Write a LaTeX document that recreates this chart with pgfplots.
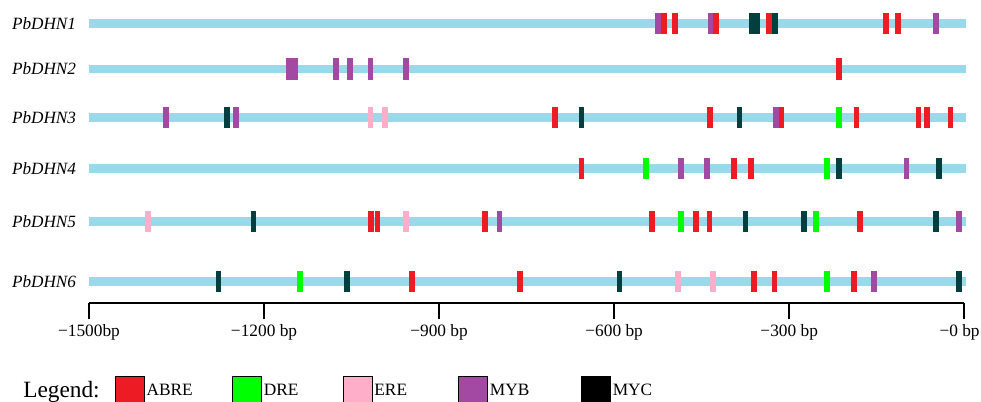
\documentclass[border=0pt]{standalone}
\usepackage{fontspec}
\setmainfont{Liberation Serif}
\usepackage{pgfplots}
\pgfplotsset{compat=1.18}
\definecolor{barc}{HTML}{99D9EA}
\definecolor{abre}{HTML}{ED1C24}
\definecolor{dre}{HTML}{00FF00}
\definecolor{ere}{HTML}{FFAEC9}
\definecolor{myb}{HTML}{A349A4}
\definecolor{myc}{HTML}{033F3F}
\tikzset{rowlab/.style={anchor=east, inner sep=0pt, font=\fontsize{12.9}{15}\selectfont\itshape, xshift=-9.5pt}}
\begin{document}
\begin{tikzpicture}
\begin{axis}[
  x=0.43763pt, y=0.75pt,
  xmin=-1500, xmax=0, ymin=-303.3, ymax=-10,
  clip=false,
  axis x line=bottom, axis y line=none,
  axis line style={-, line width=1.7pt},
  xtick={-1500,-1200,-900,-600,-300},
  xticklabels={−1500bp, −1200 bp, −900 bp, −600 bp, −300 bp},
  extra x ticks={0},
  extra x tick labels={−0 bp},
  extra x tick style={xticklabel style={xshift=-3.5pt}},
  tick align=outside, major tick length=12pt,
  tick style={black, line width=1.5pt},
  xticklabel style={font=\fontsize{13}{15}\selectfont},
  legend columns=5,
  legend image code/.code={\fill (0pt,-10.9pt) rectangle (21.75pt,10.9pt);},
  legend style={at={(axis cs:-1455.4,-390.5)}, anchor=west, draw=none, fill=none,
    inner sep=0pt, outer sep=0pt, font=\fontsize{13}{15}\selectfont,
    /tikz/every odd column/.append style={column sep=1.5pt},
    /tikz/every even column/.append style={column sep=0pt},
    nodes={inner sep=0pt}},
]
% promoter bars
\addplot[barc, line width=6.6pt, forget plot] coordinates {(-1500,-23.3) (3,-23.3)};
\addplot[barc, line width=6.6pt, forget plot] coordinates {(-1500,-69) (3,-69)};
\addplot[barc, line width=6.6pt, forget plot] coordinates {(-1500,-117.6) (3,-117.6)};
\addplot[barc, line width=6.6pt, forget plot] coordinates {(-1500,-168.6) (3,-168.6)};
\addplot[barc, line width=6.6pt, forget plot] coordinates {(-1500,-221.8) (3,-221.8)};
\addplot[barc, line width=6.6pt, forget plot] coordinates {(-1500,-281.3) (3,-281.3)};
% ABRE
\addplot[only marks, mark=|, mark size=8pt, mark options={draw=abre, line width=4.3pt}, forget plot] coordinates {
 (-514.9,-23.3) (-495.2,-23.3) (-425.1,-23.3) (-334.3,-23.3) (-133.8,-23.3) (-113.9,-23.3)
 (-214.7,-69)
 (-701,-117.6) (-435.4,-117.6) (-313.7,-117.6) (-184.7,-117.6) (-78.4,-117.6) (-63.5,-117.6) (-23.6,-117.6)
 (-656,-168.6) (-395.1,-168.6) (-365.1,-168.6)
 (-1017.3,-221.8) (-1005.6,-221.8) (-821.7,-221.8) (-535.5,-221.8) (-460,-221.8) (-436.6,-221.8) (-179,-221.8)
 (-946.8,-281.3) (-761.7,-281.3) (-360,-281.3) (-325.2,-281.3) (-189.5,-281.3)
};
% DRE
\addplot[only marks, mark=|, mark size=8pt, mark options={draw=dre, line width=4.3pt}, forget plot] coordinates {
 (-214.3,-117.6)
 (-545.4,-168.6) (-235.7,-168.6)
 (-485.1,-221.8) (-254.4,-221.8)
 (-1138.1,-281.3) (-234.7,-281.3)
};
% ERE
\addplot[only marks, mark=|, mark size=8pt, mark options={draw=ere, line width=4.3pt}, forget plot] coordinates {
 (-1017.6,-117.6) (-992.4,-117.6)
 (-1399.2,-221.8) (-957.1,-221.8)
 (-490.9,-281.3) (-430.6,-281.3)
};
% MYB
\addplot[only marks, mark=|, mark size=8pt, mark options={draw=myb, line width=4.3pt}, forget plot] coordinates {
 (-525.4,-23.3) (-434.9,-23.3) (-48.9,-23.3)
 (-1157.8,-69) (-1146.6,-69) (-1077.2,-69) (-1053,-69) (-1017.6,-69) (-957.1,-69)
 (-1368.6,-117.6) (-1248.4,-117.6) (-322.1,-117.6)
 (-485.1,-168.6) (-440.5,-168.6) (-99,-168.6)
 (-796.5,-221.8) (-8.7,-221.8)
 (-154.3,-281.3)
};
% MYC
\addplot[only marks, mark=|, mark size=8pt, mark options={draw=myc, line width=4.3pt}, forget plot] coordinates {
 (-364.6,-23.3) (-354.8,-23.3) (-324.7,-23.3)
 (-1263.5,-117.6) (-656,-117.6) (-385.2,-117.6)
 (-214.1,-168.6) (-43.6,-168.6)
 (-1218.1,-221.8) (-374.9,-221.8) (-274.3,-221.8) (-48.8,-221.8)
 (-1278.1,-281.3) (-1057.5,-281.3) (-590.8,-281.3) (-8.7,-281.3)
};
\addlegendimage{fill=abre}\addlegendentry{\makebox[64.3pt][l]{ABRE}}
\addlegendimage{fill=dre}\addlegendentry{\makebox[59.3pt][l]{DRE}}
\addlegendimage{fill=ere}\addlegendentry{\makebox[63pt][l]{ERE}}
\addlegendimage{fill=myb}\addlegendentry{\makebox[68.5pt][l]{MYB}}
\addlegendimage{fill=black}\addlegendentry{\makebox[40pt][l]{MYC}}
% row labels
\node[rowlab] at (axis cs:-1500,-23.3) {PbDHN1};
\node[rowlab] at (axis cs:-1500,-69) {PbDHN2};
\node[rowlab] at (axis cs:-1500,-117.6) {PbDHN3};
\node[rowlab] at (axis cs:-1500,-168.6) {PbDHN4};
\node[rowlab] at (axis cs:-1500,-221.8) {PbDHN5};
\node[rowlab] at (axis cs:-1500,-281.3) {PbDHN6};
\node[anchor=base west, inner sep=0pt, font=\fontsize{17.5}{20}\selectfont] at (axis cs:-1613.1,-397) {Legend:};
\coordinate (bbll) at (axis cs:-1652.5,-401);
\coordinate (bbur) at (axis cs:28.7,0);
\end{axis}
\pgfresetboundingbox
\path[use as bounding box] (bbll) rectangle (bbur);
\end{tikzpicture}
\end{document}
